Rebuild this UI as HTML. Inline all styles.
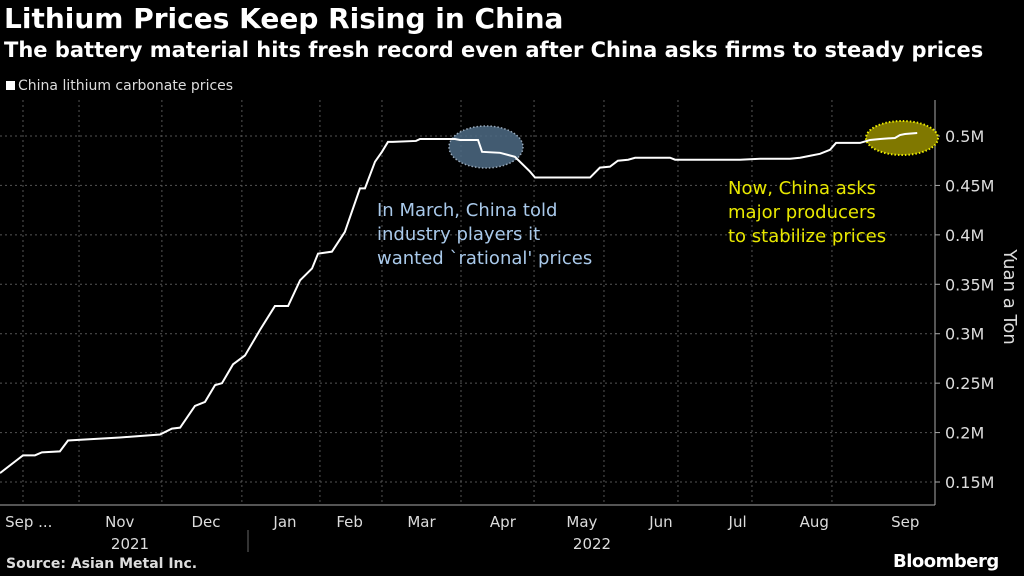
<!DOCTYPE html>
<html><head><meta charset="utf-8"><style>
body{margin:0;background:#000;width:1024px;height:576px;overflow:hidden;font-family:"DejaVu Sans","Liberation Sans",sans-serif;color:#fff}
.t{position:absolute;white-space:nowrap}
svg text{font-family:"DejaVu Sans","Liberation Sans",sans-serif}
</style></head><body>
<div class="t" style="left:4px;top:2px;font-size:28px;font-weight:bold">Lithium Prices Keep Rising in China</div>
<div class="t" style="left:4px;top:38px;font-size:21px;font-weight:bold">The battery material hits fresh record even after China asks firms to steady prices</div>
<div class="t" style="left:6px;top:78px;font-size:14px;color:#ddd"><span style="display:inline-block;width:9px;height:9px;background:#fff;margin-right:3px"></span>China lithium carbonate prices</div>
<svg id="c" width="1024" height="576" style="position:absolute;left:0;top:0"></svg>
<div class="t" style="left:6px;top:556px;font-size:14px;font-weight:bold;color:#ddd">Source: Asian Metal Inc.</div>
<div class="t" style="left:893px;top:551px;font-size:18px;font-weight:bold;letter-spacing:-0.5px">Bloomberg</div>
<script>
const days=[0,9.6,14.6,17.5,25,28.4,35.5,50.1,66.8,71.8,75.2,81.4,85.6,89.8,92.7,97.3,102.3,108.6,114.8,120.3,125.3,130.3,132.8,138.6,144,150.3,152.4,156.6,159.5,162,164,173.7,175.4,190,192.1,199.6,201.3,208.8,215,221.3,223.4,224.7,227.6,246.4,250.5,254.7,258,262.3,265.2,279.8,281.9,309,317.4,329.9,334.1,338.3,342.4,346.6,349.1,359.1,363.3,367.5,373.7,375.8,377.9,383];
const vals=[0.159,0.177,0.177,0.18,0.181,0.192,0.193,0.195,0.198,0.204,0.205,0.227,0.231,0.248,0.25,0.269,0.278,0.304,0.328,0.328,0.354,0.366,0.381,0.383,0.403,0.447,0.447,0.474,0.484,0.494,0.494,0.495,0.497,0.497,0.496,0.496,0.484,0.483,0.479,0.464,0.458,0.458,0.458,0.458,0.468,0.469,0.475,0.476,0.478,0.478,0.476,0.476,0.477,0.477,0.478,0.48,0.482,0.486,0.493,0.493,0.496,0.497,0.498,0.501,0.502,0.503];
const yTicks=[0.15,0.2,0.25,0.3,0.35,0.4,0.45,0.5];
const yLabels=["0.15M","0.2M","0.25M","0.3M","0.35M","0.4M","0.45M","0.5M"];
const monthLabels=["Sep ...","Nov","Dec","Jan","Feb","Mar","Apr","May","Jun","Jul","Aug","Sep"];
const monthDays=[12,50,86,119,146,176,210,243,276,308,340,378];
const gridDays=[9.6,33,67.6,101,133.6,159.5,192.5,223,252.2,283.1,314,347.4];
const svg=document.getElementById('c');const NS='http://www.w3.org/2000/svg';
const x=d=>d/385*922;const y=v=>136+(0.5-v)/0.05*49.43;
function mk(t,a){const e=document.createElementNS(NS,t);for(const k in a)e.setAttribute(k,a[k]);svg.appendChild(e);return e;}
yTicks.forEach((v,i)=>{const g=mk('line',{x1:0,x2:935,y1:y(v),y2:y(v),stroke:'#555','stroke-dasharray':'2,3'});

const t=mk('text',{x:945,y:y(v)+6,fill:'#ddd','font-size':16});t.textContent=yLabels[i];

mk('line',{x1:935,x2:940,y1:y(v),y2:y(v),stroke:'#aaa'});});
gridDays.forEach(d=>{const g=mk('line',{x1:x(d),x2:x(d),y1:100,y2:505,stroke:'#555','stroke-dasharray':'2,3'});
});
monthLabels.forEach((m,i)=>{const t=mk('text',{x:x(monthDays[i]),y:527,fill:'#ddd','font-size':15,'text-anchor':'middle'});t.textContent=m;
});
mk('line',{x1:935,x2:935,y1:100,y2:505,stroke:'#aaa'});
mk('line',{x1:0,x2:935,y1:505,y2:505,stroke:'#aaa'});
mk('line',{x1:248,x2:248,y1:530,y2:552,stroke:'#666'});
[["2021",130],["2022",592]].forEach(a=>{const t=mk('text',{x:a[1],y:549,fill:'#ddd','font-size':15,'text-anchor':'middle'});t.textContent=a[0];
});
const yt=mk('text',{x:0,y:0,fill:'#ddd','font-size':18,'text-anchor':'middle',transform:'translate(1004,297) rotate(90)'});yt.textContent='Yuan a Ton';

const e1=mk('ellipse',{cx:486,cy:147,rx:37,ry:21,fill:'#4d6b85','fill-opacity':0.85,stroke:'#9ab','stroke-dasharray':'1.5,2','stroke-width':1.5});

const e2=mk('ellipse',{cx:902,cy:138,rx:36,ry:17,fill:'#807800',stroke:'#ee0','stroke-dasharray':'1.5,2','stroke-width':2});

const p=mk('polyline',{points:days.map((d,i)=>x(d)+','+y(vals[i])).join(' '),fill:'none',stroke:'#fff','stroke-width':2});

[["In March, China told",210],["industry players it",234],["wanted `rational' prices",258]].forEach(a=>{const t=mk('text',{x:377,y:a[1]+6,fill:'#a9c9ea','font-size':18});t.textContent=a[0];
});
[["Now, China asks",188],["major producers",212],["to stabilize prices",236]].forEach(a=>{const t=mk('text',{x:728,y:a[1]+6,fill:'#e8e800','font-size':18});t.textContent=a[0];
});
</script>
</body></html>
